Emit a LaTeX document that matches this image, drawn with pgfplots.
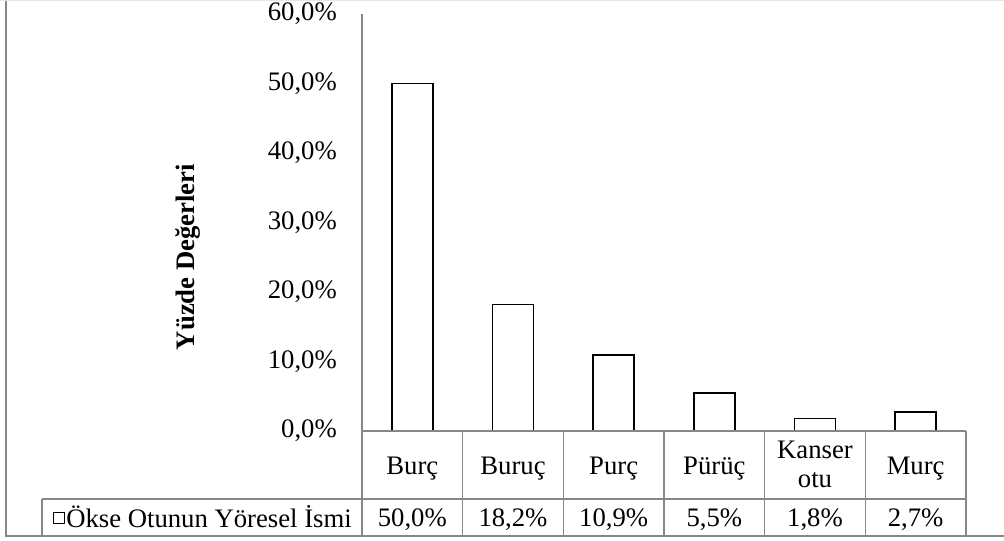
\documentclass[border=0pt]{standalone}
\usepackage{pgfplots}
\pgfplotsset{compat=1.18}
\usepackage{pgfplotstable}
\usepackage{fontspec}
\setmainfont{Liberation Serif}
\newcommand\cellfont{\fontsize{26.7bp}{29bp}\selectfont}
\definecolor{gridgray}{HTML}{878787}
\definecolor{edgegray}{HTML}{E6E6E6}

% Ökse otunun yöresel isimleri (yüzde)
\pgfplotstableread{
x val
0 50.0
1 18.2
2 10.9
3 5.5
4 1.8
5 2.7
}\vals

\begin{document}
\cellfont
\begin{tikzpicture}
\useasboundingbox (0,0) rectangle (1004bp,-541bp);
\begin{axis}[
  at={(362bp,-431bp)}, anchor=south west,
  scale only axis, width=604bp, height=417bp,
  xmin=-0.5, xmax=5.5, ymin=0, ymax=60,
  clip=false, axis on top,
  axis y line*=left, axis x line*=bottom,
  axis line style={gridgray, line width=1.3bp},
  major tick length=0pt,
  xtick={0,...,5},
  xticklabels={Burç,Buruç,Purç,Pürüç,{\raisebox{-13bp}{\begin{tabular}[b]{@{}c@{}}Kanser\\otu\end{tabular}}},Murç},
  xticklabel style={anchor=base, yshift=-43bp, font=\cellfont, inner sep=0pt},
  ytick={0,10,...,60},
  yticklabel={\pgfmathprintnumber[fixed,fixed zerofill,precision=1,use comma,assume math mode=true]{\tick}\%},
  yticklabel style={anchor=east, xshift=-25bp, font=\cellfont, inner sep=0pt},
  ylabel={Yüzde Değerleri},
  every axis y label/.style={at={(axis description cs:-0.2880,0.4173)}, rotate=90, anchor=center, font=\cellfont\bfseries},
  legend style={at={(axis description cs:-0.5111,-0.2086)}, anchor=west, draw=none, fill=none,
    font=\cellfont, inner sep=0pt, outer sep=0pt, nodes={inner sep=1bp},
    /tikz/every even column/.append style={column sep=0pt}},
  legend image code/.code={\draw[black, fill=white, line width=1bp] (0bp,-5.5bp) rectangle (11bp,5.5bp);},
]
\addplot[ybar, bar width=41bp, bar shift=0pt, fill=white, draw=black, line width=1.8bp]
  table[x=x, y=val]{\vals};
\addlegendentry{Ökse Otunun Yöresel İsmi}
% value row of the data table
\addplot[draw=none, mark=none, forget plot, point meta=explicit,
  nodes near coords={\pgfmathprintnumber[fixed,fixed zerofill,precision=1,use comma,assume math mode=true]{\pgfplotspointmeta}\%},
  every node near coord/.append style={anchor=base, font=\cellfont, inner sep=0pt}]
  table[x=x, y expr=-13.74, meta=val]{\vals};
\end{axis}
% data table grid
\begin{scope}[gridgray, line width=1.3bp]
  \draw (362bp,-431bp) -- (966bp,-431bp);
  \draw (42bp,-499bp) -- (966bp,-499bp);
  \foreach \k in {0,...,6} \draw ({362bp+\k*100.667bp},-431bp) -- ({362bp+\k*100.667bp},-536bp);
  \draw (42bp,-499bp) -- (42bp,-536bp);
  \draw (6bp,0bp) -- (6bp,-536bp) -- (1004bp,-536bp);
\end{scope}
\draw[edgegray, line width=1bp] (0bp,-0.5bp) -- (1004bp,-0.5bp);
\end{tikzpicture}
\end{document}
